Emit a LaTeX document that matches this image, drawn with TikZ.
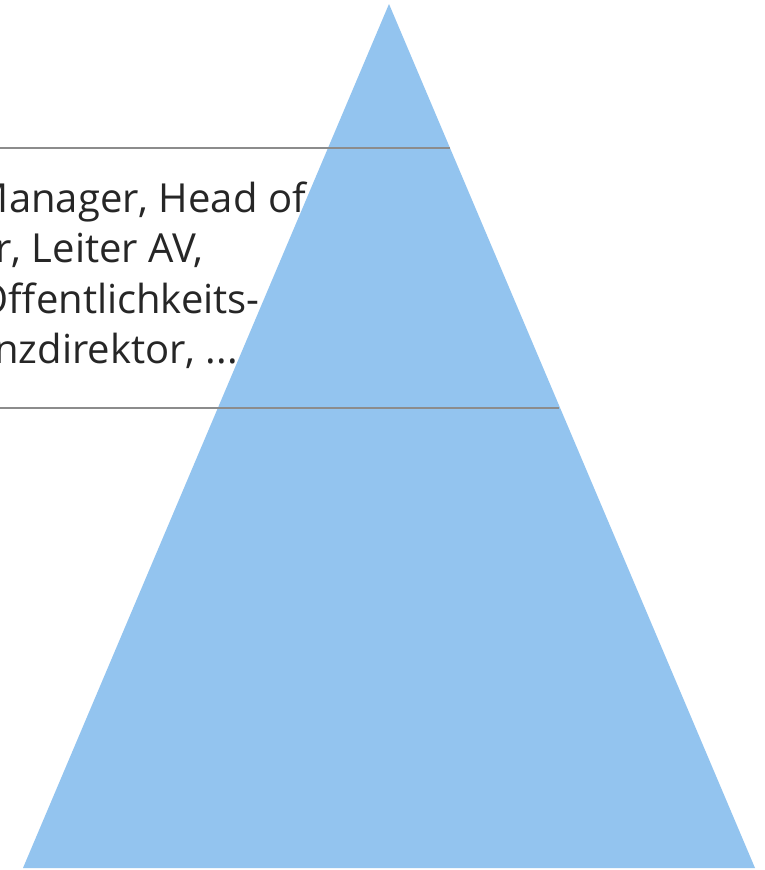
\documentclass[tikz,border=0pt]{standalone}
\usepackage{fontspec}
\setmainfont{Open Sans}
\definecolor{trifill}{HTML}{93C4EF}
\definecolor{rulegray}{HTML}{8C8C8C}
\definecolor{txtgray}{HTML}{262626}
\tikzset{
  rulerline/.style={draw=rulegray, line width=2pt},
  linetext/.style={anchor=base east, inner sep=0pt, text=txtgray, font=\fontsize{40}{50}\selectfont},
}
\begin{document}
\begin{tikzpicture}[x=1pt,y=-1pt]
\useasboundingbox (0,0) rectangle (764,870);
\fill[white] (0,0) rectangle (764,870);
\begin{scope}
\clip (0,0) rectangle (764,870);
\node[linetext] (t1) at (306,212) {Manager, Head of};
\node[linetext] (t2) at (204,262) {r, Leiter AV,};
\node[linetext] (t3) at (260,313) {Öffentlichkeits-};
\node[linetext] (t4) at (238,363) {nzdirektor, ...};
\end{scope}
\coordinate (apex) at (389,4);
\coordinate (bl) at (23,868);
\coordinate (br) at (755,868);
\fill[trifill] (apex) -- (br) -- (bl) -- cycle;
\coordinate (r1a) at (0,148);
\coordinate (r1b) at (450,148);
\coordinate (r2a) at (0,408);
\coordinate (r2b) at (559,408);
\draw[rulerline] (r1a) -- (r1b);
\draw[rulerline] (r2a) -- (r2b);
\end{tikzpicture}
\end{document}
